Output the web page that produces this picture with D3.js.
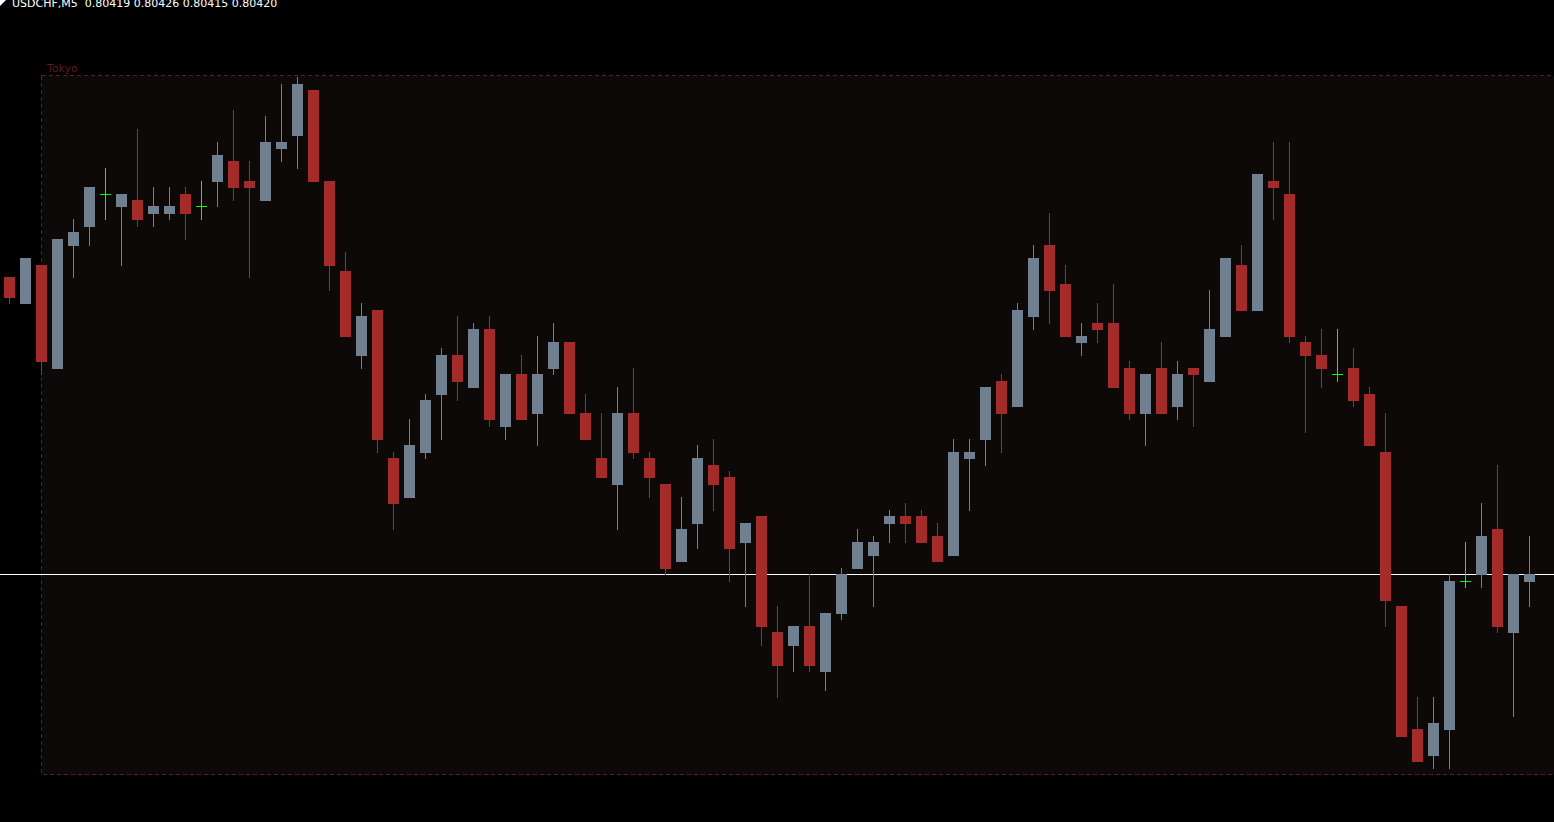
<!DOCTYPE html>
<html>
<head>
<meta charset="utf-8">
<script src="https://cdn.jsdelivr.net/npm/d3@7"></script>
<style>
  html, body { margin: 0; padding: 0; background: #000; overflow: hidden; }
  svg { display: block; }
</style>
</head>
<body>
<svg id="chart" width="1554" height="822"></svg>
<script>
// Chart data (USDCHF M5) -------------------------------------
var symbol = 'USDCHF,M5';
var opens = [0.80466, 0.80462, 0.80468, 0.80452, 0.80471, 0.80474, 0.80479, 0.80477, 0.80478, 0.80476,
  0.80476, 0.80479, 0.80477, 0.80481, 0.80484, 0.80481, 0.80478, 0.80486, 0.80488, 0.80495,
  0.80481, 0.80467, 0.80454, 0.80461, 0.80438, 0.80432, 0.80439, 0.80448, 0.80454, 0.80449,
  0.80458, 0.80443, 0.80451, 0.80445, 0.80452, 0.80456, 0.80445, 0.80438, 0.80434, 0.80445,
  0.80438, 0.80434, 0.80422, 0.80428, 0.80437, 0.80435, 0.80425, 0.80429, 0.80411, 0.80409,
  0.80412, 0.80405, 0.80414, 0.80421, 0.80423, 0.80428, 0.80429, 0.80429, 0.80426, 0.80423,
  0.80438, 0.80441, 0.80450, 0.80446, 0.80460, 0.80471, 0.80465, 0.80456, 0.80459, 0.80459,
  0.80452, 0.80445, 0.80452, 0.80446, 0.80452, 0.80450, 0.80457, 0.80468, 0.80461, 0.80481,
  0.80479, 0.80456, 0.80454, 0.80451, 0.80452, 0.80448, 0.80439, 0.80415, 0.80396, 0.80392,
  0.80396, 0.80419, 0.80420, 0.80427, 0.80411, 0.80419];
var highs = [0.80466, 0.80469, 0.80468, 0.80472, 0.80475, 0.80480, 0.80483, 0.80479, 0.80489, 0.80480,
  0.80480, 0.80480, 0.80481, 0.80487, 0.80492, 0.80484, 0.80491, 0.80496, 0.80497, 0.80495,
  0.80481, 0.80470, 0.80462, 0.80461, 0.80439, 0.80444, 0.80448, 0.80455, 0.80460, 0.80459,
  0.80460, 0.80451, 0.80454, 0.80457, 0.80459, 0.80456, 0.80448, 0.80445, 0.80449, 0.80452,
  0.80439, 0.80434, 0.80432, 0.80440, 0.80441, 0.80436, 0.80428, 0.80429, 0.80415, 0.80412,
  0.80420, 0.80414, 0.80421, 0.80427, 0.80426, 0.80430, 0.80431, 0.80430, 0.80428, 0.80441,
  0.80441, 0.80449, 0.80451, 0.80462, 0.80471, 0.80476, 0.80468, 0.80459, 0.80462, 0.80465,
  0.80453, 0.80451, 0.80456, 0.80453, 0.80452, 0.80464, 0.80469, 0.80471, 0.80482, 0.80487,
  0.80487, 0.80457, 0.80458, 0.80458, 0.80455, 0.80449, 0.80445, 0.80415, 0.80401, 0.80401,
  0.80420, 0.80425, 0.80431, 0.80437, 0.80420, 0.80426];
var lows = [0.80462, 0.80462, 0.80451, 0.80452, 0.80466, 0.80471, 0.80475, 0.80468, 0.80474, 0.80474,
  0.80475, 0.80472, 0.80475, 0.80477, 0.80478, 0.80466, 0.80478, 0.80484, 0.80483, 0.80481,
  0.80464, 0.80457, 0.80452, 0.80439, 0.80427, 0.80432, 0.80438, 0.80441, 0.80447, 0.80449,
  0.80443, 0.80441, 0.80444, 0.80440, 0.80451, 0.80445, 0.80441, 0.80435, 0.80427, 0.80438,
  0.80432, 0.80420, 0.80422, 0.80424, 0.80430, 0.80419, 0.80415, 0.80409, 0.80401, 0.80405,
  0.80405, 0.80402, 0.80413, 0.80421, 0.80415, 0.80425, 0.80425, 0.80425, 0.80422, 0.80423,
  0.80430, 0.80437, 0.80439, 0.80446, 0.80458, 0.80459, 0.80457, 0.80454, 0.80456, 0.80449,
  0.80444, 0.80440, 0.80445, 0.80444, 0.80443, 0.80450, 0.80457, 0.80461, 0.80461, 0.80475,
  0.80456, 0.80442, 0.80449, 0.80450, 0.80446, 0.80440, 0.80412, 0.80395, 0.80391, 0.80390,
  0.80390, 0.80418, 0.80418, 0.80411, 0.80398, 0.80415];
var closes = [0.80463, 0.80469, 0.80453, 0.80472, 0.80473, 0.80480, 0.80479, 0.80479, 0.80475, 0.80477,
  0.80477, 0.80476, 0.80477, 0.80485, 0.80480, 0.80480, 0.80487, 0.80487, 0.80496, 0.80481,
  0.80468, 0.80457, 0.80460, 0.80441, 0.80431, 0.80440, 0.80447, 0.80454, 0.80450, 0.80458,
  0.80444, 0.80451, 0.80444, 0.80451, 0.80456, 0.80445, 0.80441, 0.80435, 0.80445, 0.80439,
  0.80435, 0.80421, 0.80427, 0.80438, 0.80434, 0.80424, 0.80428, 0.80412, 0.80406, 0.80412,
  0.80406, 0.80414, 0.80420, 0.80425, 0.80425, 0.80429, 0.80428, 0.80425, 0.80422, 0.80439,
  0.80439, 0.80449, 0.80445, 0.80461, 0.80469, 0.80464, 0.80457, 0.80457, 0.80458, 0.80449,
  0.80445, 0.80451, 0.80445, 0.80451, 0.80451, 0.80458, 0.80469, 0.80461, 0.80482, 0.80480,
  0.80457, 0.80454, 0.80452, 0.80451, 0.80447, 0.80440, 0.80416, 0.80395, 0.80391, 0.80397,
  0.80419, 0.80419, 0.80426, 0.80412, 0.80420, 0.80420];

// Tokyo session box (starts at bar 2, runs off the right edge)
var sessionName = 'Tokyo';
var sessionStart = 2;
var sessionHigh = 0.804974;
var sessionLow = 0.803891;

// visible price range of the window
var priceMin = 0.803816;
var priceMax = 0.805090;

// Layout -------------------------------------
var width = 1554;
var height = 822;
var barStep = 16;
var bodyW = 11;
var fontFamily = '"DejaVu Sans", Verdana, sans-serif';

var colBull = '#708090';
var colBear = '#a52a2a';
var colDoji = '#00ff00';
var colBox = '#5e1c24';
var colBoxFill = '#0d0909';

var svg = d3.select('#chart');

var x = d3.scaleLinear()
  .domain([0, opens.length - 1])
  .range([9.5, 9.5 + barStep * (opens.length - 1)]);

var y = d3.scaleLinear()
  .domain([priceMin, priceMax])
  .range([height, 0]);

// pixel row for a price
function py(p) {
  return Math.round(y(p));
}

var bars = opens.map(function(o, i) {
  return { i: i, o: o, h: highs[i], l: lows[i], c: closes[i] };
});

svg.append('rect')
  .attr('width', width)
  .attr('height', height)
  .attr('fill', '#000');

// Session box -------------------------------------
var boxTop = py(sessionHigh) + 0.5;
var boxBottom = py(sessionLow) + 0.5;
var boxLeft = x(sessionStart);

svg.append('rect')
  .attr('x', boxLeft)
  .attr('y', boxTop)
  .attr('width', width + 20 - boxLeft)
  .attr('height', boxBottom - boxTop)
  .attr('fill', colBoxFill)
  .attr('stroke', colBox)
  .attr('stroke-width', 1)
  .attr('stroke-dasharray', '4,3')
  .attr('shape-rendering', 'crispEdges');

svg.append('text')
  .attr('x', boxLeft + 5.5)
  .attr('y', boxTop - 4)
  .attr('fill', colBox)
  .style('font-family', fontFamily)
  .style('font-size', '11px')
  .text(sessionName);

// Bid line -------------------------------------
var lastClose = closes[closes.length - 1];
svg.append('line')
  .attr('x1', 0)
  .attr('x2', width)
  .attr('y1', py(lastClose) + 0.5)
  .attr('y2', py(lastClose) + 0.5)
  .attr('stroke', '#ffffff')
  .attr('stroke-width', 1)
  .attr('shape-rendering', 'crispEdges');

// Candles -------------------------------------
function barColor(d) {
  if (d.o === d.c) return colDoji;
  return d.c > d.o ? colBull : colBear;
}

var candle = svg.append('g')
  .attr('shape-rendering', 'crispEdges')
  .selectAll('g')
  .data(bars)
  .enter()
  .append('g');

// wicks
candle.append('rect')
  .attr('x', function(d) { return x(d.i) - 0.5; })
  .attr('y', function(d) { return py(d.h); })
  .attr('width', 1)
  .attr('height', function(d) { return py(d.l) - py(d.h) + 1; })
  .attr('fill', barColor);

// bodies (a doji is a single row)
candle.append('rect')
  .attr('x', function(d) { return x(d.i) - bodyW / 2; })
  .attr('y', function(d) { return py(Math.max(d.o, d.c)); })
  .attr('width', bodyW)
  .attr('height', function(d) { return py(Math.min(d.o, d.c)) - py(Math.max(d.o, d.c)) + 1; })
  .attr('fill', barColor);

// Header -------------------------------------
var last = bars[bars.length - 1];
svg.append('path')
  .attr('d', 'M0,0 L6,0 L0,6 Z')
  .attr('fill', '#fff');

svg.append('text')
  .attr('x', 12)
  .attr('y', 7)
  .attr('fill', '#fff')
  .attr('xml:space', 'preserve')
  .style('white-space', 'pre')
  .style('font-family', fontFamily)
  .style('font-size', '11px')
  .text(symbol + '  ' + [last.o, last.h, last.l, last.c].map(function(v) { return v.toFixed(5); }).join(' '));
</script>
</body>
</html>
